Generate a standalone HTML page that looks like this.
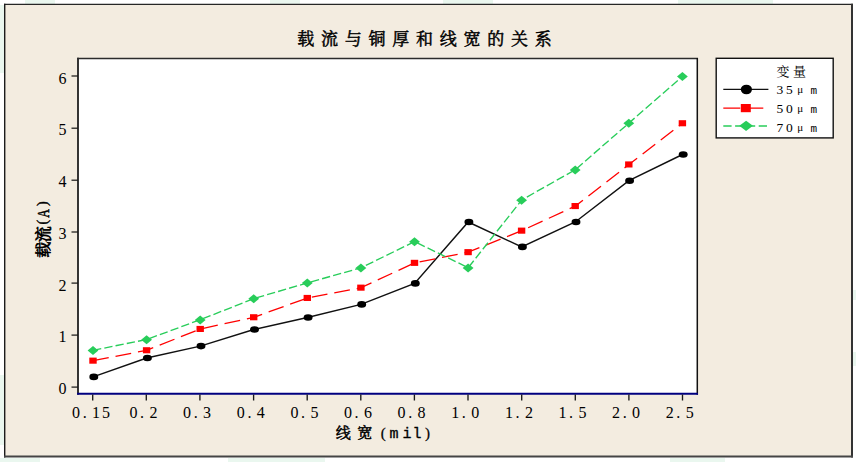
<!DOCTYPE html>
<html lang="zh-CN">
<head>
<meta charset="utf-8">
<title>载流与铜厚和线宽的关系</title>
<style>
html,body{margin:0;padding:0;background:#fff;}
body{width:856px;height:462px;overflow:hidden;}
svg{display:block;}
text{font-family:"Liberation Serif","Noto Serif CJK SC",serif;fill:#000;}
.b{font-weight:normal;stroke:#000;stroke-width:0.5px;stroke-linejoin:round;}
.m{font-family:"Liberation Mono",monospace;}
</style>
</head>
<body>
<svg width="856" height="462" viewBox="0 0 856 462">
<rect x="0" y="0" width="856" height="462" fill="#ffffff"/>
<rect x="25" y="0" width="30" height="4" fill="#eaf7ef"/><rect x="270" y="0" width="30" height="4" fill="#eaf7ef"/><rect x="443" y="0" width="50" height="4" fill="#eaf7ef"/><rect x="678" y="0" width="95" height="4" fill="#eaf7ef"/><rect x="0" y="5" width="4" height="68" fill="#eaf7ef"/><rect x="0" y="375" width="4" height="70" fill="#eaf7ef"/><rect x="0" y="458" width="40" height="4" fill="#eaf7ef"/><rect x="228" y="458" width="97" height="4" fill="#eaf7ef"/><rect x="670" y="458" width="55" height="4" fill="#eaf7ef"/><rect x="853" y="290" width="3" height="10" fill="#eaf7ef"/><rect x="853" y="352" width="3" height="14" fill="#eaf7ef"/>
<rect x="4.7" y="4.3" width="847.3" height="452.1" fill="#f3ece0"/>
<line x1="4" y1="4.3" x2="853" y2="4.3" stroke="#262626" stroke-width="1.3"/><line x1="4.7" y1="3.7" x2="4.7" y2="457.4" stroke="#1c1c1c" stroke-width="1.4"/><line x1="852" y1="3.7" x2="852" y2="457.4" stroke="#333333" stroke-width="2"/><line x1="4" y1="456.4" x2="853" y2="456.4" stroke="#454545" stroke-width="2"/>
<rect x="78" y="58.4" width="619.3" height="335.4" fill="#ffffff"/>
<line x1="77.2" y1="58.4" x2="698" y2="58.4" stroke="#2b2b2b" stroke-width="1.5"/>
<line x1="697.3" y1="58" x2="697.3" y2="394.8" stroke="#111" stroke-width="1.5"/>
<line x1="78" y1="57.7" x2="78" y2="394.8" stroke="#2b2b2b" stroke-width="1.9"/>
<line x1="77.1" y1="393.8" x2="698" y2="393.8" stroke="#000080" stroke-width="2.1"/>
<line x1="71.5" y1="387.1" x2="78" y2="387.1" stroke="#1a1a1a" stroke-width="1.25"/><text x="58.4" y="393.5" font-size="16">0</text>
<line x1="71.5" y1="335.1" x2="78" y2="335.1" stroke="#1a1a1a" stroke-width="1.25"/><text x="58.4" y="341.5" font-size="16">1</text>
<line x1="71.5" y1="283.1" x2="78" y2="283.1" stroke="#1a1a1a" stroke-width="1.25"/><text x="58.4" y="290.6" font-size="16">2</text>
<line x1="71.5" y1="232.0" x2="78" y2="232.0" stroke="#1a1a1a" stroke-width="1.25"/><text x="58.4" y="238.6" font-size="16">3</text>
<line x1="71.5" y1="180.2" x2="78" y2="180.2" stroke="#1a1a1a" stroke-width="1.25"/><text x="58.4" y="186.5" font-size="16">4</text>
<line x1="71.5" y1="128.2" x2="78" y2="128.2" stroke="#1a1a1a" stroke-width="1.25"/><text x="58.4" y="134.7" font-size="16">5</text>
<line x1="71.5" y1="76.0" x2="78" y2="76.0" stroke="#1a1a1a" stroke-width="1.25"/><text x="58.4" y="83.5" font-size="16">6</text>
<line x1="92.7" y1="394.5" x2="92.7" y2="400.5" stroke="#1a1a1a" stroke-width="1.35"/><text x="72.1 82.7 92.1 102.1" y="417.6" font-size="16">0.15</text>
<line x1="146.3" y1="394.5" x2="146.3" y2="400.5" stroke="#1a1a1a" stroke-width="1.35"/><text x="129.5 140.1 149.5" y="417.6" font-size="16">0.2</text>
<line x1="199.9" y1="394.5" x2="199.9" y2="400.5" stroke="#1a1a1a" stroke-width="1.35"/><text x="183.1 193.7 203.1" y="417.6" font-size="16">0.3</text>
<line x1="253.6" y1="394.5" x2="253.6" y2="400.5" stroke="#1a1a1a" stroke-width="1.35"/><text x="236.8 247.4 256.8" y="417.6" font-size="16">0.4</text>
<line x1="307.2" y1="394.5" x2="307.2" y2="400.5" stroke="#1a1a1a" stroke-width="1.35"/><text x="290.4 301.0 310.4" y="417.6" font-size="16">0.5</text>
<line x1="360.8" y1="394.5" x2="360.8" y2="400.5" stroke="#1a1a1a" stroke-width="1.35"/><text x="344.0 354.6 364.0" y="417.6" font-size="16">0.6</text>
<line x1="414.4" y1="394.5" x2="414.4" y2="400.5" stroke="#1a1a1a" stroke-width="1.35"/><text x="397.6 408.2 417.6" y="417.6" font-size="16">0.8</text>
<line x1="468.0" y1="394.5" x2="468.0" y2="400.5" stroke="#1a1a1a" stroke-width="1.35"/><text x="451.2 461.8 471.2" y="417.6" font-size="16">1.0</text>
<line x1="521.7" y1="394.5" x2="521.7" y2="400.5" stroke="#1a1a1a" stroke-width="1.35"/><text x="504.9 515.5 524.9" y="417.6" font-size="16">1.2</text>
<line x1="575.3" y1="394.5" x2="575.3" y2="400.5" stroke="#1a1a1a" stroke-width="1.35"/><text x="558.5 569.1 578.5" y="417.6" font-size="16">1.5</text>
<line x1="628.9" y1="394.5" x2="628.9" y2="400.5" stroke="#1a1a1a" stroke-width="1.35"/><text x="612.1 622.7 632.1" y="417.6" font-size="16">2.0</text>
<line x1="682.5" y1="394.5" x2="682.5" y2="400.5" stroke="#1a1a1a" stroke-width="1.35"/><text x="665.7 676.3 685.7" y="417.6" font-size="16">2.5</text>
<polyline points="93.1,376.9 146.7,358.0 200.3,346.1 253.8,329.5 307.4,317.5 361.0,304.4 414.6,283.4 468.2,222.0 521.7,246.9 575.3,222.0 628.9,180.7 682.5,154.5" fill="none" stroke="#111" stroke-width="1.45"/>
<polyline points="93.1,360.6 146.7,350.3 200.3,329.0 253.8,317.3 307.4,298.0 361.0,287.7 414.6,262.9 468.2,252.2 521.7,230.7 575.3,206.1 628.9,164.5 682.5,123.3" fill="none" stroke="#ff0000" stroke-width="1.3" stroke-dasharray="15.9 6.95"/>
<polyline points="93.1,350.3 146.7,339.5 200.3,319.7 253.8,298.6 307.4,282.9 361.0,267.8 414.6,241.6 468.2,267.7 521.7,200.0 575.3,169.7 628.9,123.1 682.5,76.4" fill="none" stroke="#28cd5a" stroke-width="1.35" stroke-dasharray="8.3 3.15"/>
<ellipse cx="93.8" cy="376.9" rx="4.45" ry="3.3" fill="#000000"/><ellipse cx="147.4" cy="358.0" rx="4.45" ry="3.3" fill="#000000"/><ellipse cx="201.0" cy="346.1" rx="4.45" ry="3.3" fill="#000000"/><ellipse cx="254.5" cy="329.5" rx="4.45" ry="3.3" fill="#000000"/><ellipse cx="308.1" cy="317.5" rx="4.45" ry="3.3" fill="#000000"/><ellipse cx="361.7" cy="304.4" rx="4.45" ry="3.3" fill="#000000"/><ellipse cx="415.3" cy="283.4" rx="4.45" ry="3.3" fill="#000000"/><ellipse cx="468.9" cy="222.0" rx="4.45" ry="3.3" fill="#000000"/><ellipse cx="522.4" cy="246.9" rx="4.45" ry="3.3" fill="#000000"/><ellipse cx="576.0" cy="222.0" rx="4.45" ry="3.3" fill="#000000"/><ellipse cx="629.6" cy="180.7" rx="4.45" ry="3.3" fill="#000000"/><ellipse cx="683.2" cy="154.5" rx="4.45" ry="3.3" fill="#000000"/>
<rect x="89.3" y="357.6" width="7.4" height="6.1" fill="#ff0000"/><rect x="142.9" y="347.2" width="7.4" height="6.1" fill="#ff0000"/><rect x="196.5" y="325.9" width="7.4" height="6.1" fill="#ff0000"/><rect x="250.0" y="314.2" width="7.4" height="6.1" fill="#ff0000"/><rect x="303.6" y="294.9" width="7.4" height="6.1" fill="#ff0000"/><rect x="357.2" y="284.6" width="7.4" height="6.1" fill="#ff0000"/><rect x="410.8" y="259.8" width="7.4" height="6.1" fill="#ff0000"/><rect x="464.4" y="249.1" width="7.4" height="6.1" fill="#ff0000"/><rect x="517.9" y="227.6" width="7.4" height="6.1" fill="#ff0000"/><rect x="571.5" y="203.0" width="7.4" height="6.1" fill="#ff0000"/><rect x="625.1" y="161.4" width="7.4" height="6.1" fill="#ff0000"/><rect x="678.7" y="120.2" width="7.4" height="6.1" fill="#ff0000"/>
<polygon points="87.6,350.5 93.0,346.0 98.4,350.5 93.0,355.0" fill="#28cd5a"/><polygon points="141.2,339.7 146.6,335.2 152.0,339.7 146.6,344.2" fill="#28cd5a"/><polygon points="194.8,319.9 200.2,315.4 205.6,319.9 200.2,324.4" fill="#28cd5a"/><polygon points="248.3,298.8 253.7,294.3 259.1,298.8 253.7,303.3" fill="#28cd5a"/><polygon points="301.9,283.1 307.3,278.6 312.7,283.1 307.3,287.6" fill="#28cd5a"/><polygon points="355.5,268.0 360.9,263.5 366.3,268.0 360.9,272.5" fill="#28cd5a"/><polygon points="409.1,241.8 414.5,237.3 419.9,241.8 414.5,246.3" fill="#28cd5a"/><polygon points="462.7,267.9 468.1,263.4 473.5,267.9 468.1,272.4" fill="#28cd5a"/><polygon points="516.2,200.2 521.6,195.7 527.0,200.2 521.6,204.7" fill="#28cd5a"/><polygon points="569.8,169.9 575.2,165.4 580.6,169.9 575.2,174.4" fill="#28cd5a"/><polygon points="623.4,123.3 628.8,118.8 634.2,123.3 628.8,127.8" fill="#28cd5a"/><polygon points="677.0,76.6 682.4,72.1 687.8,76.6 682.4,81.1" fill="#28cd5a"/>
<text class="b" x="297.2 320.9 344.7 368.4 392.2 415.9 439.7 463.4 487.2 510.9 534.7" y="45.3" font-size="17">载流与铜厚和线宽的关系</text>
<text class="b" y="437.8" font-size="15"><tspan x="335.8 357.3">线宽</tspan><tspan x="380.8" stroke-width="0.25">(</tspan><tspan class="m" font-size="15" stroke-width="0.3" x="389.6 402.6 412.6">mil</tspan><tspan x="425" stroke-width="0.25">)</tspan></text>
<text class="b" style="stroke-width:0.75px" transform="translate(48.9,258) rotate(-90)" font-size="16"><tspan x="0.2 15.8" y="0">载流</tspan><tspan x="33.6" y="-1.6" font-size="14" stroke-width="0.4">(</tspan><tspan x="40.3" y="0" stroke-width="0.5" textLength="8.6" lengthAdjust="spacingAndGlyphs">A</tspan><tspan x="51.9" y="-1.6" font-size="14" stroke-width="0.4">)</tspan></text>
<rect x="716.2" y="58.3" width="117" height="79.6" fill="#ffffff" stroke="#111" stroke-width="1.4"/>
<text x="776.6 792.9" y="76.1" font-size="13">变量</text>
<text font-size="13.5"><tspan x="776.6 786.1" y="94.2">35</tspan><tspan x="797.3" y="92.5" font-size="11">μ</tspan><tspan class="m" font-size="11" x="810.6" y="94.2">m</tspan></text>
<text font-size="13.5"><tspan x="776.6 786.1" y="113.3">50</tspan><tspan x="797.3" y="111.6" font-size="11">μ</tspan><tspan class="m" font-size="11" x="810.6" y="113.3">m</tspan></text>
<text font-size="13.5"><tspan x="776.6 786.1" y="132.3">70</tspan><tspan x="797.3" y="130.6" font-size="11">μ</tspan><tspan class="m" font-size="11" x="810.6" y="132.3">m</tspan></text>
<line x1="723.3" y1="89.3" x2="768.4" y2="89.3" stroke="#111" stroke-width="1.3"/><ellipse cx="746.4" cy="89.5" rx="5.6" ry="4.8" fill="#000000"/>
<line x1="723.3" y1="108.1" x2="768.4" y2="108.1" stroke="#ff0000" stroke-width="1.3" stroke-dasharray="17 6"/><rect x="740.8" y="104.0" width="10" height="8.2" fill="#ff0000"/>
<line x1="723.3" y1="126" x2="768.4" y2="126" stroke="#28cd5a" stroke-width="1.4" stroke-dasharray="8.3 3.5"/><polygon points="739.3,125.8 746.1,120.7 752.9,125.8 746.1,130.9" fill="#28cd5a"/>
</svg>
</body>
</html>
